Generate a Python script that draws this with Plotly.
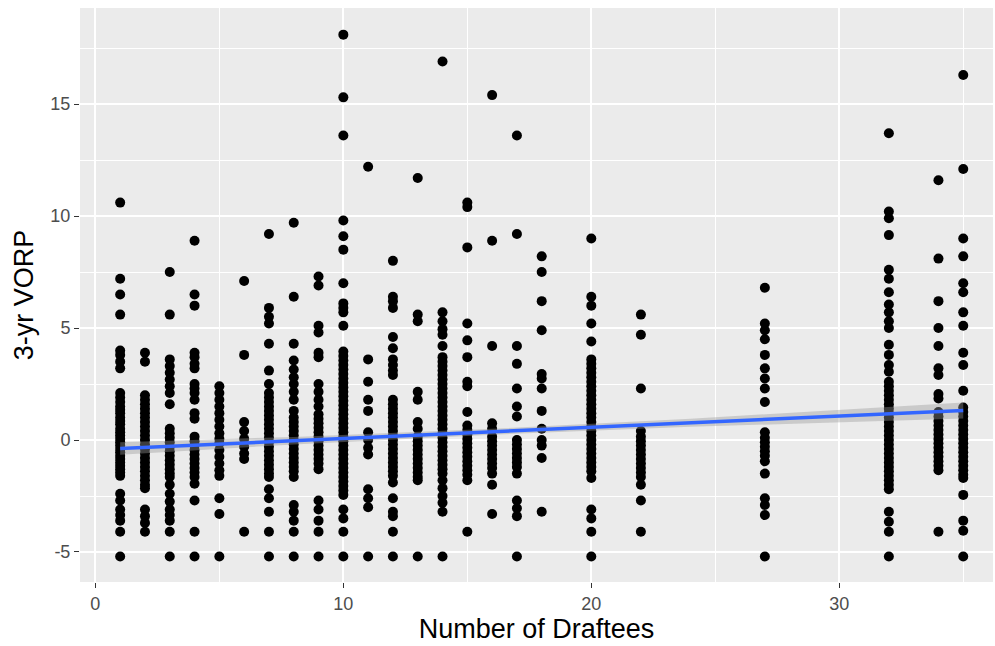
import plotly.graph_objects as go

# ---- data ----
draftees = [1, 2, 3, 4, 5, 6, 7, 8, 9, 10, 11, 12, 13, 14, 15, 16, 17, 18, 20, 22, 27, 32, 34, 35]

vorp_01 = [10.6, 7.2, 6.5, 5.6, 4.0, 3.8, 3.5, 3.2, 2.1, 1.9, 1.7, 1.5, 1.35, 1.2, 1.0, 0.85, 0.7, 0.5, 0.35, 0.2, 0.05,
           -0.1, -0.25, -0.4, -0.55, -0.7, -0.85, -1.0, -1.15, -1.3, -1.45, -1.6, -2.4, -2.7, -3.1, -3.35, -3.6, -4.1, -5.2]
vorp_02 = [3.9, 3.5, 2.0, 1.8, 1.6, 1.4, 1.2, 1.0, 0.8, 0.6, 0.4, 0.2, 0.0, -0.2, -0.4, -0.6, -0.8, -1.0, -1.2, -1.4,
           -1.6, -1.8, -2.0, -2.15, -3.1, -3.4, -3.7, -4.1]
vorp_03 = [7.5, 5.6, 3.6, 3.3, 3.0, 2.7, 2.4, 2.1, 1.6, 0.5, 0.3, 0.1, -0.1, -0.3, -0.5, -0.7, -0.9, -1.1, -1.3, -1.5,
           -1.65, -2.0, -2.4, -2.75, -3.1, -3.35, -3.6, -4.1, -5.2]
vorp_04 = [8.9, 6.5, 6.0, 3.9, 3.7, 3.4, 3.2, 2.5, 2.3, 2.1, 1.8, 1.2, 0.95, 0.15, -0.05, -0.25, -0.45, -0.65, -0.85,
           -1.05, -1.25, -1.45, -1.65, -1.95, -2.7, -4.1, -5.2]
vorp_05 = [2.4, 2.1, 1.8, 1.5, 1.2, 0.9, 0.6, 0.3, 0.05, -0.15, -0.45, -0.75, -1.05, -1.35, -1.6, -2.6, -3.3, -5.2]
vorp_06 = [7.1, 3.8, 0.8, 0.4, 0.05, -0.3, -0.6, -0.85, -4.1]
vorp_07 = [9.2, 5.9, 5.5, 5.2, 4.3, 3.1, 2.5, 2.1, 1.9, 1.7, 1.5, 1.3, 1.1, 0.9, 0.7, 0.5, 0.3, 0.1, -0.1, -0.3, -0.5,
           -0.7, -0.9, -1.1, -1.3, -1.5, -1.65, -2.2, -2.6, -3.2, -4.1, -5.2]
vorp_08 = [9.7, 6.4, 4.3, 3.55, 3.15, 2.8, 2.5, 2.15, 1.8, 1.3, 1.0, 0.8, 0.6, 0.4, 0.2, 0.0, -0.2, -0.4, -0.6, -0.8,
           -1.0, -1.2, -1.4, -1.65, -2.9, -3.2, -3.6, -4.1, -5.2]
vorp_09 = [7.3, 6.9, 5.1, 4.8, 3.9, 3.7, 2.5, 2.15, 1.8, 1.5, 1.15, 0.95, 0.75, 0.55, 0.35, 0.15, -0.05, -0.25, -0.45,
           -0.65, -0.85, -1.05, -1.3, -2.7, -3.1, -3.6, -4.1, -5.2]
vorp_10 = [18.1, 15.3, 13.6, 9.8, 9.1, 8.5, 7.0, 6.1, 5.9, 5.7, 5.1, 3.95, 3.75, 3.55, 3.35, 3.15, 2.95, 2.75, 2.55,
           2.35, 2.15, 1.95, 1.75, 1.55, 1.35, 1.15, 0.95, 0.75, 0.55, 0.35, 0.15, -0.05, -0.25, -0.45, -0.65, -0.85,
           -1.05, -1.25, -1.45, -1.65, -1.85, -2.05, -2.25, -2.45, -3.1, -3.5, -4.1, -5.2]
vorp_11 = [12.2, 3.6, 2.6, 1.8, 1.3, 0.35, 0.0, -0.35, -0.65, -2.2, -2.6, -3.0, -5.2]
vorp_12 = [8.0, 6.4, 6.2, 5.9, 4.6, 4.1, 3.6, 3.35, 3.1, 2.9, 1.8, 1.6, 1.4, 1.2, 1.0, 0.8, 0.6, 0.4, 0.2, 0.0, -0.2,
           -0.4, -0.6, -0.8, -1.0, -1.2, -1.4, -1.6, -1.9, -2.6, -3.2, -3.4, -4.1, -5.2]
vorp_13 = [11.7, 5.6, 5.3, 2.15, 1.8, 0.8, 0.5, 0.15, -0.05, -0.25, -0.45, -0.65, -0.85, -1.05, -1.25, -1.45, -1.65,
           -1.8, -5.2]
vorp_14 = [16.9, 5.7, 5.3, 4.95, 4.7, 4.2, 3.7, 3.5, 3.3, 3.1, 2.9, 2.7, 2.5, 2.3, 2.1, 1.9, 1.7, 1.5, 1.3, 1.1, 0.9,
           0.7, 0.5, 0.3, 0.1, -0.1, -0.3, -0.5, -0.7, -0.9, -1.1, -1.3, -1.5, -1.8, -2.15, -2.5, -2.8, -3.2, -5.2]
vorp_15 = [10.6, 10.4, 8.6, 5.2, 4.45, 3.7, 2.6, 2.4, 1.25, 0.65, 0.45, 0.25, 0.05, -0.15, -0.35, -0.55, -0.75, -0.95,
           -1.15, -1.35, -1.55, -1.8, -4.1]
vorp_16 = [15.4, 8.9, 4.2, 0.75, 0.5, 0.15, -0.05, -0.25, -0.45, -0.65, -0.85, -1.05, -1.25, -1.5, -2.0, -3.3]
vorp_17 = [13.6, 9.2, 4.2, 3.4, 2.3, 1.5, 1.05, 0.0, -0.2, -0.4, -0.6, -0.8, -1.0, -1.2, -1.5, -2.7, -3.05, -3.4, -5.2]
vorp_18 = [8.2, 7.5, 6.2, 4.9, 2.95, 2.75, 2.3, 1.3, 0.5, 0.0, -0.25, -0.8, -3.2]
vorp_20 = [9.0, 6.4, 6.0, 5.2, 4.4, 3.6, 3.4, 3.2, 3.0, 2.8, 2.6, 2.4, 2.2, 2.0, 1.8, 1.6, 1.4, 1.2, 1.0, 0.8, 0.6,
           0.4, 0.2, 0.0, -0.2, -0.4, -0.6, -0.8, -1.0, -1.2, -1.4, -1.7, -3.1, -3.5, -4.1, -5.2]
vorp_22 = [5.6, 4.7, 2.3, 0.4, 0.15, -0.05, -0.25, -0.45, -0.65, -0.85, -1.05, -1.25, -1.45, -1.65, -2.0, -2.7, -4.1]
vorp_27 = [6.8, 5.2, 4.9, 4.5, 3.8, 3.2, 2.75, 2.3, 1.7, 0.35, 0.1, -0.1, -0.3, -0.5, -0.7, -0.95, -1.5, -2.6, -2.9,
           -3.35, -5.2]
vorp_32 = [13.7, 10.2, 9.9, 9.15, 7.6, 7.2, 6.6, 6.05, 5.7, 5.3, 5.0, 4.25, 3.8, 3.35, 3.05, 2.6, 2.4, 2.2, 2.0, 1.8,
           1.6, 1.4, 1.2, 1.0, 0.8, 0.6, 0.4, 0.2, 0.0, -0.2, -0.4, -0.6, -0.8, -1.0, -1.2, -1.4, -1.6, -1.8, -2.0,
           -2.2, -3.2, -3.65, -4.1, -5.2]
vorp_34 = [11.6, 8.1, 6.2, 5.0, 4.2, 3.2, 2.9, 2.05, 1.85, 1.25, 1.05, 0.85, 0.65, 0.45, 0.25, 0.05, -0.15, -0.35,
           -0.55, -0.75, -0.95, -1.15, -1.35, -4.1]
vorp_35 = [16.3, 12.1, 9.0, 8.2, 7.0, 6.6, 5.7, 5.1, 3.9, 3.35, 2.2, 1.45, 1.25, 1.05, 0.85, 0.65, 0.45, 0.25, 0.05,
           -0.15, -0.35, -0.55, -0.75, -0.95, -1.15, -1.35, -1.55, -1.7, -2.45, -3.6, -4.05, -5.2]

vorp_columns = [vorp_01, vorp_02, vorp_03, vorp_04, vorp_05, vorp_06, vorp_07, vorp_08, vorp_09, vorp_10, vorp_11,
                vorp_12, vorp_13, vorp_14, vorp_15, vorp_16, vorp_17, vorp_18, vorp_20, vorp_22, vorp_27, vorp_32,
                vorp_34, vorp_35]

# linear fit and its confidence band
fit_x = [1, 35]
fit_y = [-0.38, 1.32]
band_x = [1, 8, 16, 24, 35]
band_lo = [-0.66, -0.20, 0.24, 0.59, 0.96]
band_hi = [-0.10, 0.14, 0.50, 0.95, 1.68]

x_ticks = [0, 10, 20, 30]
x_tick_labels = ["0", "10", "20", "30"]
y_ticks = [-5, 0, 5, 10, 15]
y_tick_labels = ["-5", "0", "5", "10", "15"]

# ---- build ----
xs, ys = [], []
for d, col in zip(draftees, vorp_columns):
    xs += [d] * len(col)
    ys += col

FONT = "Liberation Sans, Arial, sans-serif"

fig = go.Figure()
fig.add_trace(go.Scatter(x=xs, y=ys, mode="markers",
                         marker=dict(color="black", size=10, line=dict(width=0)),
                         hoverinfo="skip", showlegend=False))
fig.add_trace(go.Scatter(x=band_x + band_x[::-1], y=band_hi + band_lo[::-1],
                         fill="toself", fillcolor="rgba(153,153,153,0.4)",
                         line=dict(width=0), mode="lines",
                         hoverinfo="skip", showlegend=False))
fig.add_trace(go.Scatter(x=fit_x, y=fit_y, mode="lines",
                         line=dict(color="#3366FF", width=3.5),
                         hoverinfo="skip", showlegend=False))

axis_common = dict(
    showgrid=True, gridcolor="white", gridwidth=1.6,
    zeroline=False, showline=False,
    ticks="outside", ticklen=5, tickwidth=1.2, tickcolor="#333333",
    tickfont=dict(family=FONT, size=18, color="#4D4D4D"),
)

fig.update_layout(
    width=995, height=646,
    margin=dict(l=80, r=2, t=8, b=64),
    paper_bgcolor="white", plot_bgcolor="#EBEBEB",
    xaxis=dict(range=[-0.62, 36.2], tickvals=x_ticks, ticktext=x_tick_labels,
               minor=dict(dtick=5, tick0=0, showgrid=True, gridcolor="white", gridwidth=0.7, ticks=""),
               title=dict(text="Number of Draftees", font=dict(family=FONT, size=27, color="black"), standoff=6),
               **axis_common),
    yaxis=dict(range=[-6.34, 19.29], tickvals=y_ticks, ticktext=y_tick_labels,
               minor=dict(dtick=2.5, tick0=0, showgrid=True, gridcolor="white", gridwidth=0.7, ticks=""),
               title=dict(text="3-yr VORP", font=dict(family=FONT, size=27, color="black"), standoff=8),
               **axis_common),
)

fig.write_html("out.html")
